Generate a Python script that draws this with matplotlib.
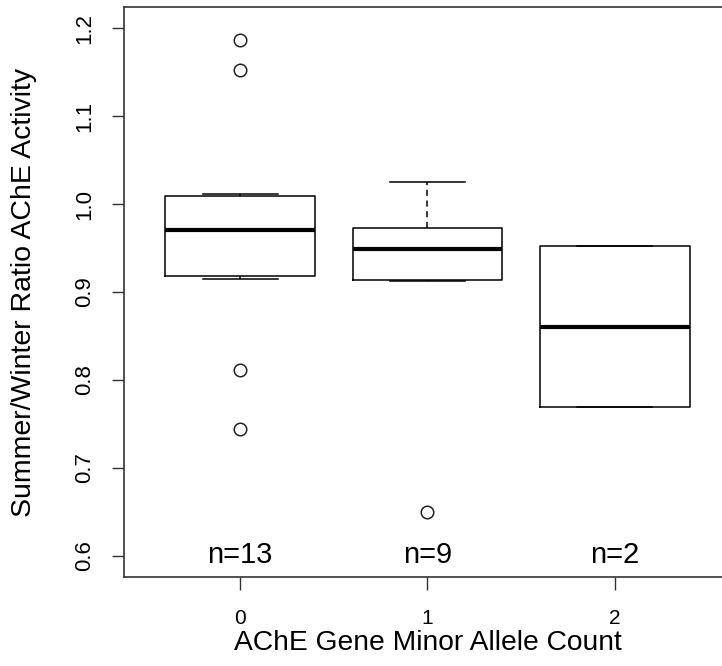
import matplotlib
matplotlib.use("Agg")
import matplotlib.pyplot as plt

plt.rcParams["font.family"] = ["Liberation Sans", "DejaVu Sans"]

# Five-number summaries per minor allele count (read as R boxplot stats)
allele_counts = [0, 1, 2]
sample_sizes = [13, 9, 2]
whisker_low = [0.915, 0.913, 0.769]
quartile_1 = [0.918, 0.914, 0.769]
medians = [0.971, 0.949, 0.860]
quartile_3 = [1.009, 0.973, 0.952]
whisker_high = [1.011, 1.025, 0.952]
outliers = [[1.186, 1.152, 0.811, 0.744], [0.650], []]
y_ticks = [0.6, 0.7, 0.8, 0.9, 1.0, 1.1, 1.2]

stats = []
for i in range(len(allele_counts)):
    stats.append({
        "whislo": whisker_low[i],
        "q1": quartile_1[i],
        "med": medians[i],
        "q3": quartile_3[i],
        "whishi": whisker_high[i],
        "fliers": outliers[i],
    })

fig = plt.figure(figsize=(7.22, 6.66), dpi=100)
ax = fig.add_axes([0.1717, 0.1336, 0.8408, 0.8559])

ax.bxp(
    stats,
    positions=allele_counts,
    widths=0.8,
    showfliers=True,
    boxprops=dict(color="black", linewidth=1.1),
    medianprops=dict(color="black", linewidth=3.0, solid_capstyle="butt"),
    whiskerprops=dict(color="black", linewidth=1.1, linestyle=(0, (4, 3))),
    capprops=dict(color="black", linewidth=1.1),
    capwidths=0.4,
    flierprops=dict(marker="o", markerfacecolor="none", markeredgecolor="#222222",
                    markersize=9, markeredgewidth=1.1),
)

ax.set_xlim(-0.62, 2.62)
ax.set_ylim(0.576, 1.224)

# sample size labels along the bottom
for pos, n in zip(allele_counts, sample_sizes):
    ax.text(pos, 0.601, f"n={n}", ha="center", va="center", fontsize=21)

ax.set_xticks(allele_counts)
ax.set_xticklabels([str(c) for c in allele_counts], fontsize=15)
ax.set_yticks(y_ticks)
ax.set_yticklabels([f"{v:.1f}" for v in y_ticks],
                   fontsize=16, rotation=90, va="center")
ax.tick_params(direction="out", length=9, width=1, color="#333333")
ax.tick_params(axis="x", pad=14)
ax.tick_params(axis="y", pad=12)

ax.set_xlabel("AChE Gene Minor Allele Count", fontsize=20.3, va="center")
ax.xaxis.set_label_coords(0.5, -0.116)
ax.set_ylabel("Summer/Winter Ratio AChE Activity", fontsize=20.5, va="center")
ax.yaxis.set_label_coords(-0.164, 0.5)

for spine in ax.spines.values():
    spine.set_linewidth(1.2)
    spine.set_color("#333333")

fig.savefig("out.png", dpi=100)
